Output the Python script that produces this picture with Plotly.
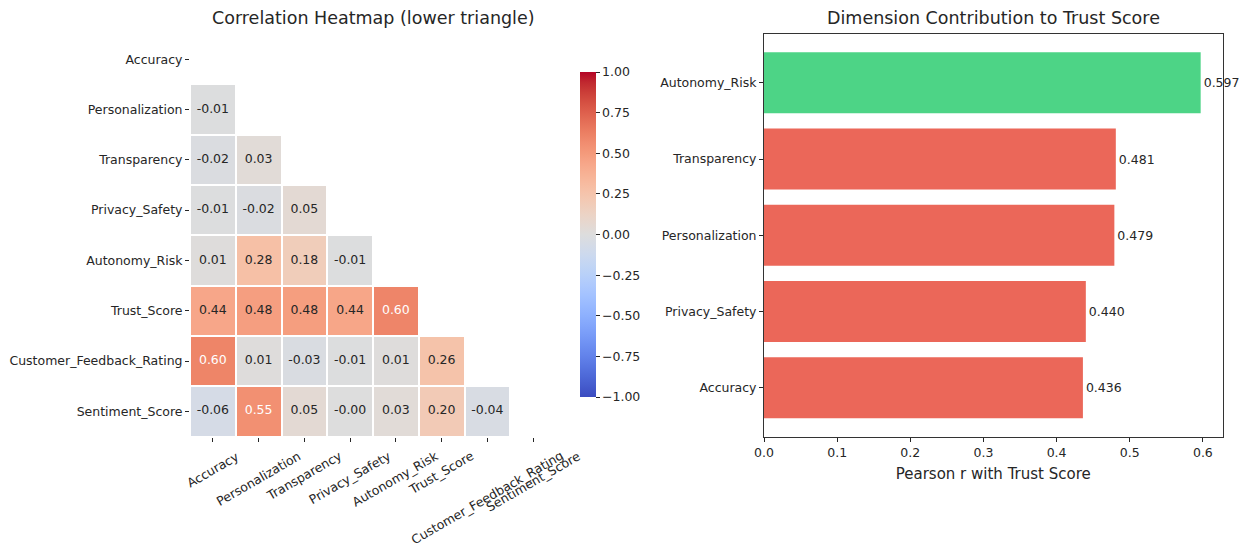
import plotly.graph_objects as go

# ---------------- data ----------------
features = ["Accuracy", "Personalization", "Transparency", "Privacy_Safety",
            "Autonomy_Risk", "Trust_Score", "Customer_Feedback_Rating", "Sentiment_Score"]

# lower-triangle correlations (row i, columns 0..i-1)
lower_rows = [
    [],
    [-0.01],
    [-0.02, 0.03],
    [-0.01, -0.02, 0.05],
    [0.01, 0.28, 0.18, -0.01],
    [0.436, 0.479, 0.481, 0.440, 0.597],
    [0.60, 0.01, -0.03, -0.01, 0.01, 0.26],
    [-0.06, 0.55, 0.05, -0.003, 0.03, 0.20, -0.04],
]

bar_dims = ["Accuracy", "Privacy_Safety", "Personalization", "Transparency", "Autonomy_Risk"]
bar_vals = [0.436, 0.440, 0.479, 0.481, 0.597]

cbar_ticks = [1.0, 0.75, 0.5, 0.25, 0.0, -0.25, -0.5, -0.75, -1.0]

# ---------------- styling ----------------
FONT = "DejaVu Sans"
DARK = "#262626"
OFF = 8                      # page body margin
W, H = 1247 - OFF, 554 - OFF

coolwarm = [
    (59, 76, 192), (68, 90, 204), (77, 104, 215), (87, 117, 225), (98, 130, 234),
    (108, 142, 241), (119, 154, 247), (130, 165, 251), (141, 176, 254), (152, 185, 255),
    (163, 194, 255), (174, 201, 253), (184, 208, 249), (194, 213, 244), (204, 217, 238),
    (213, 219, 230), (221, 221, 221), (229, 216, 209), (236, 211, 197), (241, 204, 184),
    (245, 196, 172), (247, 187, 160), (247, 177, 148), (247, 166, 137), (244, 154, 123),
    (241, 141, 112), (236, 127, 99), (229, 112, 88), (222, 96, 77), (213, 80, 66),
    (203, 62, 56), (192, 40, 47), (180, 4, 38),
]
n = len(coolwarm) - 1
colorscale = [[i / n, "rgb(%d,%d,%d)" % c] for i, c in enumerate(coolwarm)]

nf = len(features)
z = [[None] * nf for _ in range(nf)]
tx, ty, tt, tc = [], [], [], []
for i, row in enumerate(lower_rows):
    for j, v in enumerate(row):
        z[i][j] = v
        tx.append(features[j])
        ty.append(features[i])
        tt.append(f"{v:.2f}")
        tc.append("white" if abs(v) > 0.5 else DARK)

def px_x(p):
    return (p - OFF) / W

def px_y(p):
    return 1 - (p - OFF) / H

hm_x0, hm_x1 = 190, 556
top, bot = 34, 436.5
bar_x0, bar_x1 = 764, 1222.5
cb_top, cb_bot = 72, 397

fig = go.Figure()

fig.add_trace(go.Heatmap(
    z=z, x=features, y=features, zmin=-1, zmax=1, colorscale=colorscale,
    xgap=2, ygap=2, hoverongaps=False, xaxis="x", yaxis="y",
    colorbar=dict(
        x=px_x(580), xanchor="left", xpad=0, ypad=0, thickness=16, thicknessmode="pixels",
        len=(cb_bot - cb_top) / H, lenmode="fraction", y=px_y((cb_top + cb_bot) / 2),
        yanchor="middle", outlinewidth=0, ticks="outside", ticklen=4, tickcolor=DARK,
        tickvals=cbar_ticks,
        ticktext=[f"{t:.2f}".replace("-", "\u2212") for t in cbar_ticks],
        tickfont=dict(family=FONT, size=12.5, color=DARK),
    ),
))

fig.add_trace(go.Scatter(
    x=tx, y=ty, text=tt, mode="text", xaxis="x", yaxis="y",
    textfont=dict(family=FONT, size=12.5, color=tc), hoverinfo="skip", showlegend=False,
))

bar_colors = ["#4DD486" if v == max(bar_vals) else "#EB6759" for v in bar_vals]
fig.add_trace(go.Bar(
    x=bar_vals, y=bar_dims, orientation="h", width=0.8,
    marker=dict(color=bar_colors, line=dict(width=0)),
    text=[f"{v:.3f}" for v in bar_vals], textposition="outside", cliponaxis=False,
    constraintext="none",
    textfont=dict(family=FONT, size=12.5, color=DARK),
    xaxis="x2", yaxis="y2", showlegend=False,
))

annotations = []
for f in features:
    annotations.append(dict(
        x=f, xref="x", y=px_y(bot), yref="paper", yanchor="top", xanchor="center",
        yshift=-9, text=f, textangle=-30, showarrow=False,
        font=dict(family=FONT, size=12.5, color=DARK),
    ))
annotations.append(dict(
    x=px_x((hm_x0 + hm_x1) / 2), y=px_y(18), xref="paper", yref="paper",
    text="Correlation Heatmap (lower triangle)", showarrow=False,
    xanchor="center", yanchor="middle", font=dict(family=FONT, size=17.5, color=DARK),
))
annotations.append(dict(
    x=px_x((bar_x0 + bar_x1) / 2), y=px_y(18), xref="paper", yref="paper",
    text="Dimension Contribution to Trust Score", showarrow=False,
    xanchor="center", yanchor="middle", font=dict(family=FONT, size=17.5, color=DARK),
))

tickfont = dict(family=FONT, size=12.5, color=DARK)
fig.update_layout(
    width=W, height=H, margin=dict(l=0, r=0, t=0, b=0, autoexpand=False),
    paper_bgcolor="white", plot_bgcolor="white", showlegend=False,
    font=dict(family=FONT, color=DARK),
    xaxis=dict(domain=[px_x(hm_x0), px_x(hm_x1)], anchor="y", type="category",
               categoryorder="array", categoryarray=features, range=[-0.5, nf - 0.5],
               showticklabels=False, ticks="outside", ticklen=4, tickcolor=DARK,
               showgrid=False, zeroline=False, showline=False, automargin=False),
    yaxis=dict(domain=[px_y(bot), px_y(top)], anchor="x", type="category",
               categoryorder="array", categoryarray=features, range=[nf - 0.5, -0.5],
               ticks="outside", ticklen=4, tickcolor=DARK, tickfont=tickfont,
               showgrid=False, zeroline=False, showline=False, automargin=False),
    xaxis2=dict(domain=[px_x(bar_x0), px_x(bar_x1)], anchor="y2", range=[0, 0.597 * 1.05],
                tickvals=[0, 0.1, 0.2, 0.3, 0.4, 0.5, 0.6], tickformat=".1f",
                ticks="outside", ticklen=4, tickcolor=DARK, tickfont=tickfont,
                showgrid=False, zeroline=False, showline=True, linecolor="#333333",
                linewidth=1, mirror=True, automargin=False,
                title=dict(text="Pearson r with Trust Score", standoff=9,
                           font=dict(family=FONT, size=15, color=DARK))),
    yaxis2=dict(domain=[px_y(bot), px_y(top)], anchor="x2", type="category",
                categoryorder="array", categoryarray=bar_dims, range=[-0.64, 4.64],
                ticks="outside", ticklen=4, tickcolor=DARK, tickfont=tickfont,
                showgrid=False, zeroline=False, showline=True, linecolor="#333333",
                linewidth=1, mirror=True, automargin=False),
    annotations=annotations,
)

fig.write_html("out.html")
